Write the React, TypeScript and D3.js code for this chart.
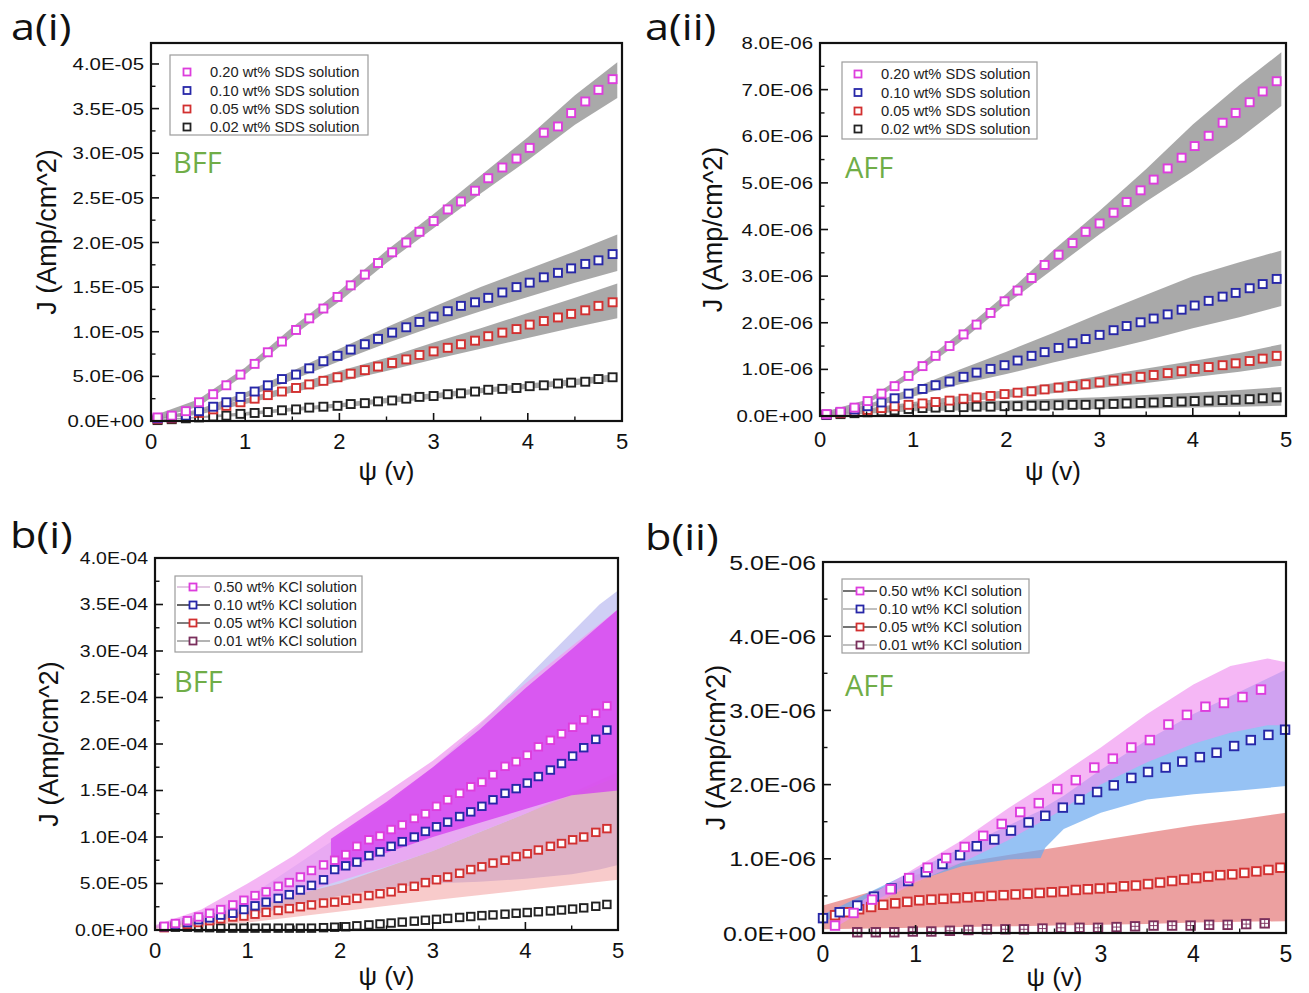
import React from "react";
import * as d3 from "d3";

const SANS = "'Liberation Sans', Arial, Helvetica, sans-serif";
const DISPLAY = "'Open Sans', 'Liberation Sans', sans-serif";
const TAG_GREEN = "#70ad47";

// ---------------- a(i) / a(ii): SDS solutions ----------------
const X_A = [0.07, 0.22, 0.37, 0.51, 0.66, 0.80, 0.95, 1.10, 1.24, 1.39, 1.54, 1.68, 1.83, 1.98, 2.12, 2.27, 2.41, 2.56, 2.71, 2.85, 3.00, 3.15, 3.29, 3.44, 3.58, 3.73, 3.88, 4.02, 4.17, 4.32, 4.46, 4.61, 4.75, 4.90];
const SDS_LABELS = ["0.20 wt% SDS solution", "0.10 wt% SDS solution", "0.05 wt% SDS solution", "0.02 wt% SDS solution"];

// a(i), units of 1e-6 A/cm^2
const AI_020 = [0.4, 0.6, 1.1, 2.1, 3.0, 4.0, 5.2, 6.4, 7.7, 8.9, 10.2, 11.5, 12.6, 13.9, 15.2, 16.4, 17.7, 18.9, 20.0, 21.2, 22.4, 23.7, 24.6, 25.8, 27.2, 28.4, 29.4, 30.6, 32.3, 33.0, 34.5, 35.8, 37.1, 38.3];
const AI_010 = [0.3, 0.4, 0.6, 1.1, 1.6, 2.1, 2.7, 3.3, 4.0, 4.7, 5.2, 5.9, 6.7, 7.3, 8.0, 8.6, 9.2, 9.9, 10.5, 11.1, 11.7, 12.3, 12.9, 13.3, 13.8, 14.4, 15.0, 15.5, 16.1, 16.6, 17.1, 17.6, 18.0, 18.7];
const AI_005 = [0.2, 0.3, 0.5, 0.9, 1.3, 1.7, 2.1, 2.5, 2.9, 3.3, 3.7, 4.1, 4.5, 4.9, 5.3, 5.7, 6.1, 6.5, 6.9, 7.4, 7.8, 8.2, 8.6, 9.0, 9.5, 9.9, 10.3, 10.8, 11.2, 11.6, 12.0, 12.4, 12.9, 13.3];
const AI_002 = [0.1, 0.2, 0.3, 0.4, 0.5, 0.6, 0.8, 0.9, 1.0, 1.2, 1.3, 1.5, 1.6, 1.7, 1.9, 2.0, 2.2, 2.3, 2.5, 2.7, 2.8, 3.0, 3.1, 3.3, 3.5, 3.6, 3.7, 3.9, 4.0, 4.2, 4.3, 4.4, 4.7, 4.9];

const BAND_X_A = [0.0, 0.5, 1.0, 1.5, 2.0, 2.5, 3.0, 3.5, 4.0, 4.5, 4.95];
const AI_020_HI = [0.5, 2.4, 6.0, 10.5, 14.6, 19.1, 23.2, 27.5, 31.8, 36.5, 40.2];
const AI_020_LO = [0.1, 1.6, 5.2, 9.5, 13.4, 17.7, 21.6, 25.5, 29.2, 33.2, 36.2];
const AI_010_HI = [0.3, 1.3, 3.2, 5.6, 8.1, 10.5, 12.8, 15.0, 17.0, 19.0, 20.9];
const AI_010_LO = [0.1, 0.9, 2.6, 4.6, 6.7, 8.7, 10.6, 12.3, 13.9, 15.5, 16.8];
const AI_005_HI = [0.2, 1.1, 2.5, 4.0, 5.6, 7.1, 8.8, 10.4, 12.1, 13.8, 15.4];
const AI_005_LO = [0.05, 0.7, 1.9, 3.2, 4.4, 5.6, 6.9, 8.1, 9.3, 10.5, 11.5];
const AI_002_HI = [0.1, 0.5, 1.0, 1.5, 2.0, 2.6, 3.1, 3.7, 4.2, 4.7, 5.3];
const AI_002_LO = [0.0, 0.3, 0.6, 1.1, 1.5, 2.0, 2.5, 3.1, 3.6, 4.0, 4.5];

// a(ii), units of 1e-6 A/cm^2
const AII_020 = [0.04, 0.09, 0.18, 0.32, 0.48, 0.64, 0.86, 1.07, 1.29, 1.50, 1.75, 1.96, 2.21, 2.46, 2.69, 2.96, 3.24, 3.46, 3.71, 3.95, 4.13, 4.36, 4.59, 4.84, 5.07, 5.31, 5.54, 5.79, 6.01, 6.29, 6.50, 6.73, 6.96, 7.18];
const AII_010 = [0.03, 0.08, 0.14, 0.21, 0.29, 0.38, 0.48, 0.58, 0.66, 0.74, 0.84, 0.93, 1.01, 1.09, 1.19, 1.29, 1.37, 1.46, 1.56, 1.65, 1.74, 1.84, 1.93, 2.01, 2.09, 2.18, 2.28, 2.37, 2.47, 2.56, 2.64, 2.74, 2.83, 2.94];
const AII_005 = [0.03, 0.06, 0.09, 0.13, 0.17, 0.21, 0.24, 0.27, 0.30, 0.33, 0.37, 0.40, 0.43, 0.47, 0.50, 0.53, 0.57, 0.61, 0.64, 0.68, 0.72, 0.76, 0.80, 0.84, 0.88, 0.92, 0.96, 1.01, 1.05, 1.09, 1.13, 1.18, 1.23, 1.29];
const AII_002 = [0.02, 0.04, 0.06, 0.08, 0.10, 0.12, 0.15, 0.17, 0.18, 0.19, 0.19, 0.20, 0.20, 0.21, 0.21, 0.22, 0.22, 0.23, 0.24, 0.24, 0.25, 0.26, 0.27, 0.28, 0.29, 0.30, 0.31, 0.32, 0.33, 0.34, 0.35, 0.36, 0.38, 0.40];

const AII_020_HI = [0.06, 0.35, 1.0, 1.78, 2.62, 3.55, 4.4, 5.3, 6.25, 7.1, 7.8];
const AII_020_LO = [0.0, 0.25, 0.86, 1.58, 2.4, 3.15, 3.9, 4.6, 5.25, 5.95, 6.65];
const AII_010_HI = [0.03, 0.24, 0.6, 1.0, 1.38, 1.78, 2.2, 2.6, 3.0, 3.3, 3.55];
const AII_010_LO = [0.01, 0.16, 0.42, 0.68, 0.9, 1.15, 1.38, 1.62, 1.88, 2.12, 2.36];
const AII_005_HI = [0.03, 0.16, 0.3, 0.43, 0.56, 0.7, 0.86, 1.02, 1.18, 1.35, 1.54];
const AII_005_LO = [0.01, 0.1, 0.21, 0.3, 0.39, 0.49, 0.6, 0.71, 0.83, 0.95, 1.08];
const AII_002_HI = [0.02, 0.12, 0.25, 0.3, 0.33, 0.37, 0.4, 0.45, 0.5, 0.56, 0.62];
const AII_002_LO = [0.0, 0.05, 0.1, 0.12, 0.13, 0.14, 0.15, 0.16, 0.18, 0.2, 0.22];

// ---------------- b(i) / b(ii): KCl solutions ----------------
const KCL_LABELS = ["0.50 wt% KCl solution", "0.10 wt% KCl solution", "0.05 wt% KCl solution", "0.01 wt% KCl solution"];

// b(i), units of 1e-5 A/cm^2
const X_BI = [0.10, 0.22, 0.35, 0.47, 0.59, 0.71, 0.84, 0.96, 1.08, 1.20, 1.33, 1.45, 1.57, 1.69, 1.82, 1.94, 2.06, 2.18, 2.31, 2.43, 2.55, 2.67, 2.80, 2.92, 3.04, 3.16, 3.29, 3.41, 3.53, 3.65, 3.78, 3.90, 4.02, 4.14, 4.27, 4.39, 4.51, 4.63, 4.76, 4.88];
const BI_050 = [0.4, 0.7, 1.0, 1.4, 1.8, 2.2, 2.7, 3.2, 3.7, 4.1, 4.7, 5.1, 5.7, 6.4, 7.0, 7.5, 8.1, 9.0, 9.7, 10.1, 10.8, 11.3, 12.0, 12.5, 13.3, 14.0, 14.7, 15.4, 15.9, 16.7, 17.6, 18.1, 18.8, 19.7, 20.4, 21.1, 21.8, 22.6, 23.3, 24.1];
const BI_010 = [0.35, 0.5, 0.8, 1.1, 1.3, 1.6, 1.8, 2.2, 2.6, 3.0, 3.4, 3.8, 4.3, 4.8, 5.4, 6.5, 6.9, 7.3, 8.0, 8.4, 9.0, 9.5, 10.0, 10.6, 11.1, 11.6, 12.2, 12.7, 13.3, 14.0, 14.7, 15.2, 15.8, 16.5, 17.2, 17.9, 18.7, 19.6, 20.5, 21.5];
const BI_005 = [0.25, 0.4, 0.6, 0.8, 1.0, 1.2, 1.4, 1.5, 1.7, 1.9, 2.1, 2.3, 2.5, 2.7, 2.9, 3.0, 3.2, 3.4, 3.7, 3.9, 4.1, 4.5, 4.7, 5.1, 5.4, 5.7, 6.1, 6.5, 6.8, 7.2, 7.5, 7.9, 8.2, 8.6, 9.0, 9.3, 9.7, 10.0, 10.5, 10.9];
const BI_001 = [0.3, 0.3, 0.3, 0.25, 0.25, 0.2, 0.2, 0.2, 0.2, 0.2, 0.2, 0.2, 0.2, 0.2, 0.25, 0.3, 0.35, 0.45, 0.55, 0.65, 0.75, 0.85, 0.95, 1.05, 1.15, 1.25, 1.35, 1.45, 1.55, 1.62, 1.7, 1.8, 1.88, 1.96, 2.05, 2.15, 2.25, 2.38, 2.55, 2.75];

const BI_OUTER_X = [0, 1, 1.9, 2.5, 3, 3.5, 4, 4.5, 4.8, 5];
const BI_OUTER_HI = [0.4, 3.5, 9.5, 13.5, 17.5, 22, 27, 32, 35, 36.5];
const BI_OUTER_LO = [0.2, 1.5, 3.5, 4.5, 5.0, 5.2, 5.5, 6.0, 6.5, 7.0];
const BI_005_BX = [0, 1, 2, 3, 4, 5];
const BI_005_HI = [0.4, 2.5, 5.0, 8.5, 12.5, 17];
const BI_005_LO = [0.1, 0.8, 2.0, 3.2, 4.3, 5.4];
const BI_050_BX = [0, 0.5, 1, 1.5, 1.9, 2.5, 3, 3.5, 4, 4.5, 5];
const BI_050_HI = [0.5, 2.2, 5.0, 8.0, 10.8, 14.8, 18.2, 22.2, 26.5, 30.5, 34.5];
const BI_050_LO = [0.2, 1.0, 2.3, 3.6, 5.0, 6.8, 8.5, 10.5, 12.5, 14.5, 16.5];
const BI_010_BX = [1.9, 2.5, 3, 3.5, 4, 4.5, 5];
const BI_010_HI = [9.8, 13.8, 17.5, 21.5, 26, 30.2, 34.5];
const BI_010_LO = [6.0, 8.3, 10.0, 11.5, 13.0, 14.5, 15.0];

// b(ii), units of 1e-6 A/cm^2
const X_BII_050 = [0.13, 0.33, 0.53, 0.73, 0.93, 1.13, 1.33, 1.53, 1.73, 1.93, 2.13, 2.33, 2.53, 2.73, 2.93, 3.13, 3.33, 3.53, 3.73, 3.93, 4.13, 4.33, 4.53, 4.73];
const BII_050 = [0.10, 0.27, 0.45, 0.59, 0.74, 0.88, 1.01, 1.16, 1.31, 1.47, 1.63, 1.75, 1.94, 2.06, 2.23, 2.35, 2.50, 2.60, 2.81, 2.94, 3.05, 3.10, 3.18, 3.28];
const X_BII_010 = [0.00, 0.18, 0.37, 0.55, 0.74, 0.92, 1.11, 1.29, 1.48, 1.66, 1.85, 2.03, 2.22, 2.40, 2.59, 2.77, 2.96, 3.14, 3.33, 3.51, 3.70, 3.88, 4.07, 4.25, 4.44, 4.62, 4.81, 4.99];
const BII_010 = [0.20, 0.28, 0.37, 0.49, 0.60, 0.70, 0.82, 0.93, 1.05, 1.17, 1.26, 1.38, 1.49, 1.58, 1.69, 1.80, 1.90, 1.99, 2.09, 2.17, 2.23, 2.31, 2.37, 2.43, 2.52, 2.60, 2.67, 2.74];
const X_BII_005 = [0.13, 0.26, 0.39, 0.52, 0.65, 0.78, 0.91, 1.04, 1.17, 1.30, 1.43, 1.56, 1.69, 1.82, 1.95, 2.08, 2.21, 2.34, 2.47, 2.60, 2.73, 2.86, 2.99, 3.12, 3.25, 3.38, 3.51, 3.64, 3.77, 3.90, 4.03, 4.16, 4.29, 4.42, 4.55, 4.68, 4.81, 4.94];
const BII_005 = [0.24, 0.28, 0.32, 0.35, 0.38, 0.40, 0.42, 0.44, 0.45, 0.46, 0.47, 0.48, 0.49, 0.50, 0.51, 0.52, 0.53, 0.54, 0.55, 0.56, 0.58, 0.59, 0.60, 0.61, 0.63, 0.64, 0.66, 0.68, 0.70, 0.72, 0.74, 0.76, 0.78, 0.79, 0.81, 0.83, 0.85, 0.88];
const X_BII_001 = [0.37, 0.57, 0.77, 0.97, 1.17, 1.37, 1.57, 1.77, 1.97, 2.17, 2.37, 2.57, 2.77, 2.97, 3.17, 3.37, 3.57, 3.77, 3.97, 4.17, 4.37, 4.57, 4.77];
const BII_001 = [0.01, 0.01, 0.01, 0.02, 0.02, 0.03, 0.04, 0.05, 0.05, 0.05, 0.06, 0.07, 0.07, 0.07, 0.08, 0.09, 0.10, 0.10, 0.10, 0.11, 0.11, 0.12, 0.13];

const BII_005_BX = [0, 0.5, 1, 1.5, 2, 2.5, 3, 3.5, 4, 4.5, 5];
const BII_005_HI = [0.37, 0.55, 0.78, 0.95, 1.05, 1.15, 1.25, 1.35, 1.45, 1.53, 1.62];
const BII_005_LO = [0.05, 0.06, 0.07, 0.08, 0.09, 0.10, 0.11, 0.12, 0.14, 0.15, 0.16];
const BII_010_BX = [0.0, 0.5, 1.0, 1.5, 2.0, 2.35, 2.4, 2.6, 3.0, 3.5, 4.0, 4.5, 5.0];
const BII_010_HI = [0.25, 0.55, 0.85, 1.15, 1.45, 1.65, 1.7, 1.85, 2.2, 2.6, 2.95, 3.25, 3.55];
const BII_010_LO = [0.15, 0.4, 0.7, 0.9, 0.99, 1.01, 1.15, 1.4, 1.62, 1.8, 1.87, 1.92, 1.98];
const BII_050_BX = [0.1, 0.5, 1.0, 1.5, 2.0, 2.5, 3.0, 3.5, 4.0, 4.4, 4.8, 5.0];
const BII_050_HI = [0.15, 0.5, 0.88, 1.25, 1.68, 2.08, 2.5, 2.95, 3.35, 3.6, 3.7, 3.65];
const BII_050_LO = [0.05, 0.35, 0.68, 0.95, 1.25, 1.6, 2.0, 2.3, 2.55, 2.7, 2.8, 2.8];

// ---------------- axis ticks ----------------
const X_TICKS = [0, 1, 2, 3, 4, 5];
const X_MINOR = [0.5, 1.5, 2.5, 3.5, 4.5];
const AI_Y_TICKS = [0, 5, 10, 15, 20, 25, 30, 35, 40];
const AI_Y_LABELS = ["0.0E+00", "5.0E-06", "1.0E-05", "1.5E-05", "2.0E-05", "2.5E-05", "3.0E-05", "3.5E-05", "4.0E-05"];
const AII_Y_TICKS = [0, 1, 2, 3, 4, 5, 6, 7, 8];
const AII_Y_LABELS = ["0.0E+00", "1.0E-06", "2.0E-06", "3.0E-06", "4.0E-06", "5.0E-06", "6.0E-06", "7.0E-06", "8.0E-06"];
const BI_Y_TICKS = [0, 5, 10, 15, 20, 25, 30, 35, 40];
const BI_Y_LABELS = ["0.0E+00", "5.0E-05", "1.0E-04", "1.5E-04", "2.0E-04", "2.5E-04", "3.0E-04", "3.5E-04", "4.0E-04"];
const BII_Y_TICKS = [0, 1, 2, 3, 4, 5];
const BII_Y_LABELS = ["0.0E+00", "1.0E-06", "2.0E-06", "3.0E-06", "4.0E-06", "5.0E-06"];

const C_MAG = "#dd3ddd";
const C_BLUE = "#2727a8";
const C_RED = "#d23030";
const C_BLACK = "#222222";
const C_PLUM = "#7a2f5c";
const GRAY_BAND = "#9a9a9a";

interface SeriesDef { color: string; legendColor: string; lineColor?: string; xs: number[]; ys: number[]; cross?: boolean }
interface BandDef { xs: number[]; hi: number[]; lo: number[]; fill: string; opacity: number }
interface LegendDef { x: number; y: number; w: number; h: number; rows: number[]; markerX: number; textX: number; lineX1?: number; lineX2?: number; labels: string[] }
interface PanelDef {
  id: string; title: string; titleX: number; titleY: number; tag: string; tagX: number; tagY: number;
  left: number; right: number; top: number; bottom: number; yMax: number;
  yTicks: number[]; yLabels: string[]; yStep: number;
  yFont: number; ySx: number; xFont: number; xTickY: number; xTitleY: number; yTitleX: number;
  legend: LegendDef; series: SeriesDef[]; bands: BandDef[]; marker: number;
}

const PANELS: PanelDef[] = [
  {
    id: "ai", title: "a(i)", titleX: 11, titleY: 40, tag: "BFF", tagX: 173, tagY: 173,
    left: 151, right: 622, top: 43, bottom: 421, yMax: 42.35,
    yTicks: AI_Y_TICKS, yLabels: AI_Y_LABELS, yStep: 2.5,
    yFont: 17, ySx: 1.2, xFont: 22, xTickY: 449, xTitleY: 480, yTitleX: 47,
    legend: { x: 170, y: 55, w: 198, h: 80, rows: [72, 90.5, 109, 127], markerX: 187, textX: 210, labels: SDS_LABELS },
    series: [
      { color: C_BLACK, legendColor: C_BLACK, xs: X_A, ys: AI_002 },
      { color: C_RED, legendColor: C_RED, xs: X_A, ys: AI_005 },
      { color: C_BLUE, legendColor: C_BLUE, xs: X_A, ys: AI_010 },
      { color: C_MAG, legendColor: C_MAG, xs: X_A, ys: AI_020 },
    ],
    bands: [
      { xs: BAND_X_A, hi: AI_020_HI, lo: AI_020_LO, fill: GRAY_BAND, opacity: 0.85 },
      { xs: BAND_X_A, hi: AI_010_HI, lo: AI_010_LO, fill: GRAY_BAND, opacity: 0.85 },
      { xs: BAND_X_A, hi: AI_005_HI, lo: AI_005_LO, fill: GRAY_BAND, opacity: 0.85 },
      { xs: BAND_X_A, hi: AI_002_HI, lo: AI_002_LO, fill: GRAY_BAND, opacity: 0.85 },
    ],
    marker: 8,
  },
  {
    id: "aii", title: "a(ii)", titleX: 645, titleY: 40, tag: "AFF", tagX: 845, tagY: 178,
    left: 820, right: 1286, top: 43, bottom: 416, yMax: 8,
    yTicks: AII_Y_TICKS, yLabels: AII_Y_LABELS, yStep: 0.5,
    yFont: 17, ySx: 1.2, xFont: 22, xTickY: 447, xTitleY: 480, yTitleX: 713,
    legend: { x: 842, y: 62, w: 195, h: 77, rows: [74, 92.5, 111, 129], markerX: 858, textX: 881, labels: SDS_LABELS },
    series: [
      { color: C_BLACK, legendColor: C_BLACK, xs: X_A, ys: AII_002 },
      { color: C_RED, legendColor: C_RED, xs: X_A, ys: AII_005 },
      { color: C_BLUE, legendColor: C_BLUE, xs: X_A, ys: AII_010 },
      { color: C_MAG, legendColor: C_MAG, xs: X_A, ys: AII_020 },
    ],
    bands: [
      { xs: BAND_X_A, hi: AII_020_HI, lo: AII_020_LO, fill: GRAY_BAND, opacity: 0.85 },
      { xs: BAND_X_A, hi: AII_010_HI, lo: AII_010_LO, fill: GRAY_BAND, opacity: 0.85 },
      { xs: BAND_X_A, hi: AII_005_HI, lo: AII_005_LO, fill: GRAY_BAND, opacity: 0.85 },
      { xs: BAND_X_A, hi: AII_002_HI, lo: AII_002_LO, fill: GRAY_BAND, opacity: 0.85 },
    ],
    marker: 8,
  },
  {
    id: "bi", title: "b(i)", titleX: 10, titleY: 548, tag: "BFF", tagX: 174, tagY: 692,
    left: 155, right: 618, top: 558, bottom: 930, yMax: 40,
    yTicks: BI_Y_TICKS, yLabels: BI_Y_LABELS, yStep: 2.5,
    yFont: 16.5, ySx: 1.18, xFont: 22, xTickY: 958, xTitleY: 985, yTitleX: 49,
    legend: { x: 175, y: 576, w: 187, h: 76, rows: [587, 605, 623, 641], markerX: 193, textX: 214, lineX1: 177, lineX2: 210, labels: KCL_LABELS },
    series: [
      { color: C_BLACK, legendColor: C_PLUM, lineColor: "#9a9a9a", xs: X_BI, ys: BI_001 },
      { color: C_RED, legendColor: C_RED, lineColor: "#555555", xs: X_BI, ys: BI_005 },
      { color: C_BLUE, legendColor: C_BLUE, lineColor: "#333333", xs: X_BI, ys: BI_010 },
      { color: C_MAG, legendColor: C_MAG, lineColor: "#d9b6d9", xs: X_BI, ys: BI_050 },
    ],
    bands: [
      { xs: BI_OUTER_X, hi: BI_OUTER_HI, lo: BI_OUTER_LO, fill: "#a8a8ec", opacity: 0.55 },
      { xs: BI_005_BX, hi: BI_005_HI, lo: BI_005_LO, fill: "#f08c8c", opacity: 0.45 },
      { xs: BI_050_BX, hi: BI_050_HI, lo: BI_050_LO, fill: "#f09cf0", opacity: 0.75 },
      { xs: BI_010_BX, hi: BI_010_HI, lo: BI_010_LO, fill: "#d444f0", opacity: 0.8 },
    ],
    marker: 7.5,
  },
  {
    id: "bii", title: "b(ii)", titleX: 645, titleY: 550, tag: "AFF", tagX: 845, tagY: 696,
    left: 823, right: 1286, top: 562, bottom: 933, yMax: 5,
    yTicks: BII_Y_TICKS, yLabels: BII_Y_LABELS, yStep: 0.5,
    yFont: 21, ySx: 1.18, xFont: 23, xTickY: 962, xTitleY: 986, yTitleX: 716,
    legend: { x: 842, y: 579, w: 187, h: 74, rows: [591, 609, 627, 645], markerX: 860, textX: 879, lineX1: 843, lineX2: 877, labels: KCL_LABELS },
    series: [
      { color: C_PLUM, legendColor: C_PLUM, lineColor: "#aaaaaa", xs: X_BII_001, ys: BII_001, cross: true },
      { color: C_RED, legendColor: C_RED, lineColor: "#444444", xs: X_BII_005, ys: BII_005 },
      { color: C_BLUE, legendColor: C_BLUE, lineColor: "#aaaaaa", xs: X_BII_010, ys: BII_010 },
      { color: C_MAG, legendColor: C_MAG, lineColor: "#444444", xs: X_BII_050, ys: BII_050 },
    ],
    bands: [
      { xs: BII_005_BX, hi: BII_005_HI, lo: BII_005_LO, fill: "#e06060", opacity: 0.6 },
      { xs: BII_010_BX, hi: BII_010_HI, lo: BII_010_LO, fill: "#6aa8f0", opacity: 0.7 },
      { xs: BII_050_BX, hi: BII_050_HI, lo: BII_050_LO, fill: "#f090f0", opacity: 0.65 },
    ],
    marker: 8.5,
  },
];

function Panel({ p }: { p: PanelDef }) {
  const x = d3.scaleLinear().domain([0, 5]).range([p.left, p.right]);
  const y = d3.scaleLinear().domain([0, p.yMax]).range([p.bottom, p.top]);
  const area = d3
    .area<[number, number, number]>()
    .x((d) => x(d[0]))
    .y0((d) => y(d[2]))
    .y1((d) => y(d[1]))
    .curve(d3.curveLinear);
  const yMinor = d3.range(0, p.yMax + 1e-9, p.yStep).filter((v) => !p.yTicks.some((t) => Math.abs(t - v) < 1e-9));
  const s = p.marker;
  const clipId = `clip-${p.id}`;
  const yMid = (p.top + p.bottom) / 2;
  const xMid = (p.left + p.right) / 2;
  const lg = p.legend;
  const legSeries = [...p.series].reverse();
  return (
    <g>
      <defs>
        <clipPath id={clipId}>
          <rect x={p.left} y={p.top} width={p.right - p.left} height={p.bottom - p.top} />
        </clipPath>
      </defs>
      <g clipPath={`url(#${clipId})`}>
        {p.bands.map((b, i) => (
          <path
            key={i}
            d={area(b.xs.map((xv, j) => [xv, b.hi[j], b.lo[j]] as [number, number, number])) || ""}
            fill={b.fill}
            fillOpacity={b.opacity}
          />
        ))}
      </g>
      {p.series.map((ser, i) => (
        <g key={i}>
          {ser.xs.map((xv, j) => {
            const cx = x(xv);
            const cy = y(ser.ys[j]);
            return (
              <g key={j}>
                <rect x={cx - s / 2} y={cy - s / 2} width={s} height={s} fill="white" stroke={ser.color} strokeWidth={1.9} />
                {ser.cross ? (
                  <path d={`M${cx - s / 2},${cy}H${cx + s / 2}M${cx},${cy - s / 2}V${cy + s / 2}`} stroke={ser.color} strokeWidth={0.9} />
                ) : null}
              </g>
            );
          })}
        </g>
      ))}
      <rect x={p.left} y={p.top} width={p.right - p.left} height={p.bottom - p.top} fill="none" stroke="#111" strokeWidth={2.2} />
      {X_TICKS.map((t) => (
        <line key={"xt" + t} x1={x(t)} x2={x(t)} y1={p.bottom} y2={p.bottom - 8} stroke="#111" strokeWidth={1.6} />
      ))}
      {X_MINOR.map((t) => (
        <line key={"xm" + t} x1={x(t)} x2={x(t)} y1={p.bottom} y2={p.bottom - 4.5} stroke="#111" strokeWidth={1.4} />
      ))}
      {p.yTicks.map((t) => (
        <line key={"yt" + t} x1={p.left} x2={p.left + 8} y1={y(t)} y2={y(t)} stroke="#111" strokeWidth={1.6} />
      ))}
      {yMinor.map((t) => (
        <line key={"ym" + t} x1={p.left} x2={p.left + 4.5} y1={y(t)} y2={y(t)} stroke="#111" strokeWidth={1.4} />
      ))}
      {p.yTicks.map((t, i) => (
        <text
          key={"yl" + t}
          transform={`translate(${p.left - 7},${y(t) + p.yFont * 0.36}) scale(${p.ySx},1)`}
          textAnchor="end"
          fontFamily={SANS}
          fontSize={p.yFont}
          fill="#111"
        >
          {p.yLabels[i]}
        </text>
      ))}
      {X_TICKS.map((t) => (
        <text key={"xl" + t} x={x(t)} y={p.xTickY} textAnchor="middle" fontFamily={SANS} fontSize={p.xFont} fill="#111">
          {t}
        </text>
      ))}
      <text x={xMid} y={p.xTitleY} textAnchor="middle" fontFamily={SANS} fontSize={26} fill="#111">
        ψ (v)
      </text>
      <text
        transform={`translate(${p.yTitleX},${yMid}) rotate(-90)`}
        textAnchor="middle"
        dominantBaseline="central"
        fontFamily={SANS}
        fontSize={27}
        fill="#111"
      >
        J (Amp/cm^2)
      </text>
      <rect x={lg.x} y={lg.y} width={lg.w} height={lg.h} fill="white" fillOpacity={0.9} stroke="#9c9c9c" strokeWidth={1.2} />
      {legSeries.map((ser, i) => {
        const ry = lg.rows[i];
        return (
          <g key={"lg" + i}>
            {lg.lineX1 !== undefined ? (
              <line x1={lg.lineX1} x2={lg.lineX2} y1={ry} y2={ry} stroke={ser.lineColor || "#555"} strokeWidth={1.5} />
            ) : null}
            <rect x={lg.markerX - 3.5} y={ry - 3.5} width={7} height={7} fill="white" stroke={ser.legendColor} strokeWidth={1.8} />
            <text x={lg.textX} y={ry + 5.3} fontFamily={SANS} fontSize={14.7} fill="#222">
              {lg.labels[i]}
            </text>
          </g>
        );
      })}
      <text x={p.tagX} y={p.tagY} fontFamily={DISPLAY} fontSize={29} fill={TAG_GREEN}>
        {p.tag}
      </text>
      <text transform={`translate(${p.titleX},${p.titleY}) scale(1.2,1)`} fontFamily={DISPLAY} fontSize={36} fill="#111">
        {p.title}
      </text>
    </g>
  );
}

export default function App() {
  return (
    <svg width={1309} height={993} style={{ position: "absolute", left: 0, top: 0, display: "block" }}>
      <rect x={0} y={0} width={1309} height={993} fill="white" />
      {PANELS.map((p) => (
        <Panel key={p.id} p={p} />
      ))}
    </svg>
  );
}
